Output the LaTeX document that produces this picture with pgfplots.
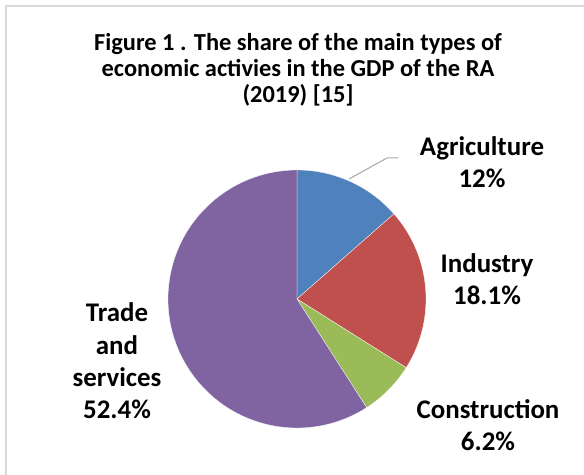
\documentclass[border=0pt]{standalone}
\usepackage{fontspec}
\setmainfont{Carlito}
\usepackage{pgfplots}
\usepackage{pgfplotstable}
\pgfplotsset{compat=1.18}

\definecolor{pieblue}{HTML}{4F81BD}
\definecolor{piered}{HTML}{C0504D}
\definecolor{piegreen}{HTML}{9BBB59}
\definecolor{pieviolet}{HTML}{8064A2}
\definecolor{frame}{HTML}{D9D9D9}

% shares as printed on the chart (the pie is drawn from their sum)
\pgfplotstableread{
name value colour
Agriculture 12 pieblue
Industry 18.1 piered
Construction 6.2 piegreen
Trade 52.4 pieviolet
}\piedata

\xdef\total{0}
\pgfplotstableforeachcolumnelement{value}\of\piedata\as\val{%
  \pgfmathsetmacro\tmp{\total+\val}\xdef\total{\tmp}}

\begin{document}
\begin{tikzpicture}[x=1bp,y=1bp]
\useasboundingbox (0,0) rectangle (584,475);
\draw[frame, line width=2bp] (6,-10) -- (6,469) -- (600,469);

\begin{axis}[
  x=1bp, y=1bp, anchor=origin, at={(0,0)},
  xmin=0, xmax=584, ymin=0, ymax=475,
  hide axis, clip=false,
]
\xdef\startang{90}
\pgfplotsinvokeforeach{0,...,3}{
  \pgfplotstablegetelem{#1}{value}\of\piedata \let\val\pgfplotsretval
  \pgfplotstablegetelem{#1}{colour}\of\piedata \let\col\pgfplotsretval
  \pgfmathsetmacro\endang{\startang-360*(\val/\total)}
  \edef\slice{\noexpand\fill[\col, draw=white, line width=0.3bp]
    (axis cs:297,176) -- ++(\startang:129bp)
    arc[start angle=\startang, end angle=\endang, radius=129bp] -- cycle;}
  \slice
  \xdef\startang{\endang}
}

\draw[gray!70, line width=1bp] (axis cs:349,296) -- (axis cs:387,317) -- (axis cs:398,317);

% base anchor = baseline of the last line
\node[anchor=base, align=center, font=\fontsize{24.5}{26.5}\selectfont\bfseries]
  at (axis cs:298,372) {Figure 1 . The share of the main types of\\economic activies in the GDP of the RA\\(2019) [15]};
\tikzset{lab/.style={anchor=base, align=center, font=\fontsize{27}{32.5}\selectfont\bfseries}}
\node[lab] at (axis cs:482,287) {Agriculture\\12\%};
\node[lab] at (axis cs:487,170) {Industry\\18.1\%};
\node[lab] at (axis cs:488,24) {Construction\\6.2\%};
\node[lab] at (axis cs:117,56) {Trade\\and\\services\\52.4\%};
\end{axis}
\end{tikzpicture}
\end{document}
